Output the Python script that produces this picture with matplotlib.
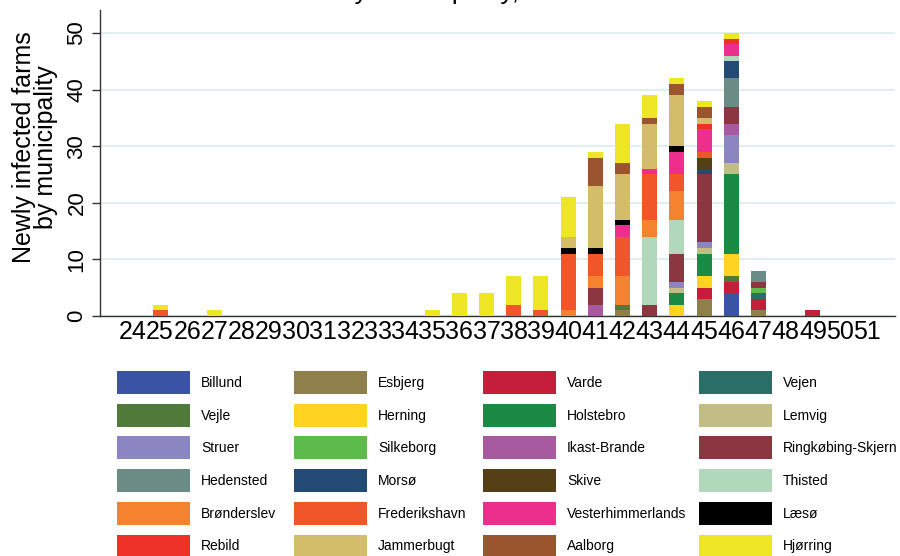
import numpy as np
import matplotlib
matplotlib.use('Agg')
import matplotlib.pyplot as plt
from matplotlib.patches import Patch

# == Data ===================================================
weeks = [24, 25, 26, 27, 28, 29, 30, 31, 32, 33, 34, 35, 36, 37,
         38, 39, 40, 41, 42, 43, 44, 45, 46, 47, 48, 49, 50, 51]

municipalities = ['Billund', 'Esbjerg', 'Varde', 'Vejen',
                  'Vejle', 'Herning', 'Holstebro', 'Lemvig',
                  'Struer', 'Silkeborg', 'Ikast-Brande', 'Ringkøbing-Skjern',
                  'Hedensted', 'Morsø', 'Skive', 'Thisted',
                  'Brønderslev', 'Frederikshavn', 'Vesterhimmerlands', 'Læsø',
                  'Rebild', 'Jammerbugt', 'Aalborg', 'Hjørring']

colors = ['#3a53a4', '#8f7f4a', '#c41e3a', '#2a6e68',
          '#4f7a3a', '#ffd320', '#1a8a45', '#c2bd84',
          '#8b86c1', '#5cbb4a', '#a85aa0', '#8b3640',
          '#6b8c84', '#234a74', '#553f17', '#b2d8bc',
          '#f5822e', '#f0562a', '#ec2f8c', '#000000',
          '#ee3128', '#d4bd6a', '#9a552e', '#eee525']

# weeks 24-39                                         | weeks 40-51
billund      = [0,0,0,0,0,0,0,0,0,0,0,0,0,0,0,0,  0,0,0,0,0,0,4,0,0,0,0,0]
esbjerg      = [0,0,0,0,0,0,0,0,0,0,0,0,0,0,0,0,  0,0,1,0,0,3,0,1,0,0,0,0]
varde        = [0,0,0,0,0,0,0,0,0,0,0,0,0,0,0,0,  0,0,0,0,0,2,2,2,0,1,0,0]
vejen        = [0,0,0,0,0,0,0,0,0,0,0,0,0,0,0,0,  0,0,0,0,0,0,0,1,0,0,0,0]
vejle        = [0,0,0,0,0,0,0,0,0,0,0,0,0,0,0,0,  0,0,1,0,0,0,1,0,0,0,0,0]
herning      = [0,0,0,0,0,0,0,0,0,0,0,0,0,0,0,0,  0,0,0,0,2,2,4,0,0,0,0,0]
holstebro    = [0,0,0,0,0,0,0,0,0,0,0,0,0,0,0,0,  0,0,0,0,2,4,14,0,0,0,0,0]
lemvig       = [0,0,0,0,0,0,0,0,0,0,0,0,0,0,0,0,  0,0,0,0,1,1,2,0,0,0,0,0]
struer       = [0,0,0,0,0,0,0,0,0,0,0,0,0,0,0,0,  0,0,0,0,1,1,5,0,0,0,0,0]
silkeborg    = [0,0,0,0,0,0,0,0,0,0,0,0,0,0,0,0,  0,0,0,0,0,0,0,1,0,0,0,0]
ikast        = [0,0,0,0,0,0,0,0,0,0,0,0,0,0,0,0,  0,2,0,0,0,0,2,0,0,0,0,0]
ringkobing   = [0,0,0,0,0,0,0,0,0,0,0,0,0,0,0,0,  0,3,0,2,5,12,3,1,0,0,0,0]
hedensted    = [0,0,0,0,0,0,0,0,0,0,0,0,0,0,0,0,  0,0,0,0,0,0,5,2,0,0,0,0]
morso        = [0,0,0,0,0,0,0,0,0,0,0,0,0,0,0,0,  0,0,0,0,0,1,3,0,0,0,0,0]
skive        = [0,0,0,0,0,0,0,0,0,0,0,0,0,0,0,0,  0,0,0,0,0,2,0,0,0,0,0,0]
thisted      = [0,0,0,0,0,0,0,0,0,0,0,0,0,0,0,0,  0,0,0,12,6,0,1,0,0,0,0,0]
bronderslev  = [0,0,0,0,0,0,0,0,0,0,0,0,0,0,0,0,  1,2,5,3,5,0,0,0,0,0,0,0]
frederikshavn= [0,1,0,0,0,0,0,0,0,0,0,0,0,0,2,1,  10,4,7,8,3,1,0,0,0,0,0,0]
vesterhimmer = [0,0,0,0,0,0,0,0,0,0,0,0,0,0,0,0,  0,0,2,1,4,4,2,0,0,0,0,0]
laeso        = [0,0,0,0,0,0,0,0,0,0,0,0,0,0,0,0,  1,1,1,0,1,0,0,0,0,0,0,0]
rebild       = [0,0,0,0,0,0,0,0,0,0,0,0,0,0,0,0,  0,0,0,0,0,1,1,0,0,0,0,0]
jammerbugt   = [0,0,0,0,0,0,0,0,0,0,0,0,0,0,0,0,  2,11,8,8,9,1,0,0,0,0,0,0]
aalborg      = [0,0,0,0,0,0,0,0,0,0,0,0,0,0,0,0,  0,5,2,1,2,2,0,0,0,0,0,0]
hjorring     = [0,1,0,1,0,0,0,0,0,0,0,1,4,4,5,6,  7,1,7,4,1,1,1,0,0,0,0,0]

counts = [billund, esbjerg, varde, vejen, vejle, herning, holstebro, lemvig,
          struer, silkeborg, ikast, ringkobing, hedensted, morso, skive,
          thisted, bronderslev, frederikshavn, vesterhimmer, laeso, rebild,
          jammerbugt, aalborg, hjorring]
# ===========================================================

plt.rcParams['font.family'] = ['Liberation Sans', 'DejaVu Sans']

fig = plt.figure(figsize=(9, 5.56), dpi=100)
ax = fig.add_axes([100/900, 1 - 316/556, 795/900, 306/556])

# Stacked bars in legend order
bottom = np.zeros(len(weeks))
for name, col, vals in zip(municipalities, colors, counts):
    vals = np.array(vals, dtype=float)
    ax.bar(weeks, vals, bottom=bottom, width=0.55, color=col,
           linewidth=0, label=name, zorder=3)
    bottom += vals

# Axes styling
ax.set_xlim(22.79, 52.02)
ax.set_ylim(0, 54.06)
ax.set_xticks(weeks)
ax.set_xticklabels([str(w) for w in weeks], fontsize=18)
ax.set_yticks([0, 10, 20, 30, 40, 50])
ax.set_yticklabels(['0', '10', '20', '30', '40', '50'], fontsize=16,
                   rotation=90, va='center')
ax.tick_params(axis='x', length=0, pad=3)
ax.tick_params(axis='y', length=6, width=1, color='#333333', pad=3)
ax.grid(axis='y', color='#e2edf0', linewidth=1.5, zorder=0)
for s in ['top', 'right']:
    ax.spines[s].set_visible(False)
for s in ['left', 'bottom']:
    ax.spines[s].set_color('#333333')
    ax.spines[s].set_linewidth(1.0)

# Y label
fig.text(35/900, 1 - 147/556, 'Newly infected farms\nby municipality',
         rotation=90, ha='center', va='center', fontsize=18,
         multialignment='center', linespacing=0.9)

# Title (cut off at the top of the picture)
fig.text(368/900, 1 + 1/556, 'Number of infected farms by',
         ha='right', va='baseline', fontsize=19)
fig.text(368/900, 1 + 1/556, ' municipality, 2020',
         ha='left', va='baseline', fontsize=19)

# Legend: one column legend per column so they line up like the original
col_x = [117, 294, 483, 699]
for c in range(4):
    idx = list(range(c, 24, 4))
    fig.legend([Patch(facecolor=colors[i], edgecolor='none') for i in idx],
               [municipalities[i] for i in idx],
               ncol=1, loc='upper left',
               bbox_to_anchor=(col_x[c]/900, 1 - 371/556),
               frameon=False, fontsize=10, handlelength=5.25,
               handleheight=2.17, handletextpad=0.8, labelspacing=0.7,
               borderpad=0, borderaxespad=0)

fig.savefig('out.png', dpi=100)
